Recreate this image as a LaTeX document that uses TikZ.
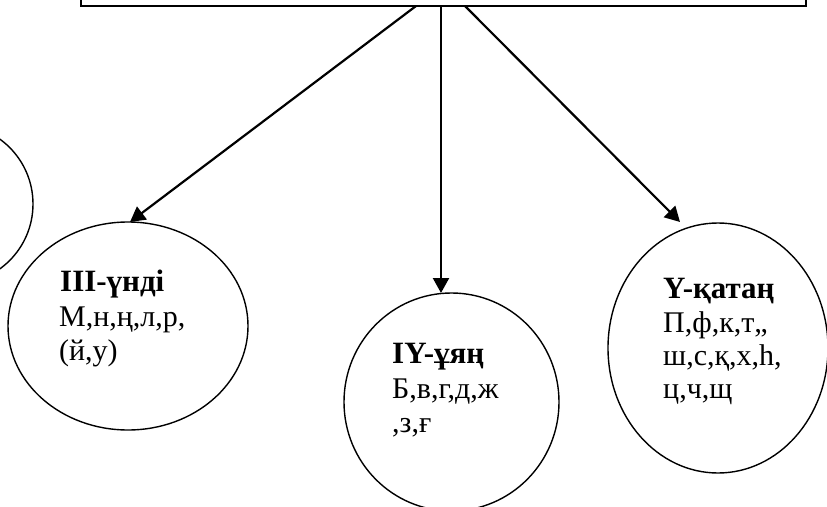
\documentclass[tikz,border=0pt]{standalone}
\usepackage{fontspec}
\setmainfont{Liberation Serif}
\usetikzlibrary{arrows.meta,shapes.geometric}
\begin{document}
\begin{tikzpicture}[x=1pt,y=-1pt,
  shp/.style={draw, line width=1.4pt, inner sep=0pt},
  arr/.style={line width=2.2pt, -{Triangle[length=15pt,width=16pt]}},
  txt/.style={anchor=base west, inner sep=0pt, font=\fontsize{30}{34}\selectfont},
  hd/.style={anchor=base west, inner sep=0pt, font=\fontsize{31}{34}\selectfont\bfseries}]
\useasboundingbox (0,0) rectangle (827,506);
\begin{scope}
\clip (0,0) rectangle (827,506);
\node[shp, line width=1.8pt, minimum width=725pt, minimum height=60pt] (top) at (443.5,-24) {};
\node[shp, circle, minimum size=160pt] (e2) at (-47,204) {};
\node[shp, ellipse, minimum width=240pt, minimum height=208pt] (e3) at (128,326) {};
\node[shp, ellipse, minimum width=215pt, minimum height=218pt] (e4) at (451.5,402) {};
\node[shp, ellipse, minimum width=220pt, minimum height=250pt] (e5) at (718,348) {};
\end{scope}
\coordinate (s3) at (416,6);
\coordinate (s4) at (441,6);
\coordinate (s5) at (465,6);
\coordinate (t3) at (130,222);
\coordinate (t4) at (441,293);
\coordinate (t5) at (680,222);
\draw[arr] (s3) -- (t3);
\draw[arr] (s4) -- (t4);
\draw[arr] (s5) -- (t5);
\node[hd] (h3) at (60,291) {III-үнді};
\node[txt] (a3) at (59,326) {М,н,ң,л,р,};
\node[txt] (b3) at (59,360) {(й,у)};
\node[hd] (h4) at (392,363) {IY-ұяң};
\node[txt] (a4) at (392,398) {Б,в,г,д,ж};
\node[txt] (b4) at (392,432) {,з,ғ};
\node[hd] (h5) at (663,298) {Y-қатаң};
\node[txt] (a5) at (663,332) {П,ф,к,т,,};
\node[txt] (b5) at (663,365) {ш,с,қ,х,һ,};
\node[txt] (c5) at (663,398) {ц,ч,щ};
\end{tikzpicture}
\end{document}
